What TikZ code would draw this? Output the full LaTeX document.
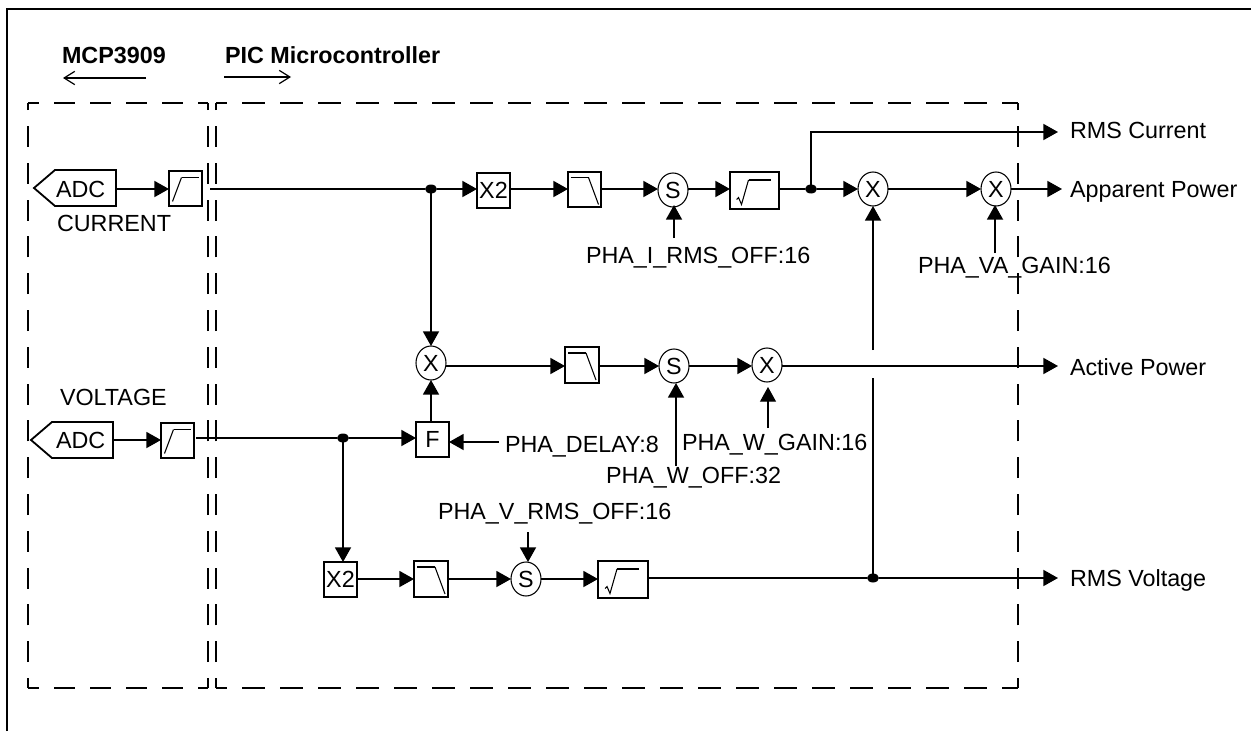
\documentclass[tikz,border=0pt]{standalone}
\usepackage{fontspec}
\setmainfont{Liberation Sans}
\usetikzlibrary{arrows.meta,shapes.geometric}
\tikzset{
  lw/.style={line width=1.35pt},
  bx/.style 2 args={draw,lw,rectangle,inner sep=0pt,outer sep=0pt,minimum width=#1*0.75pt,minimum height=#2*0.75pt,font=\fontsize{17.5}{20}\selectfont},
  rnd/.style={draw,line width=0.8pt,ellipse,inner sep=0pt,outer sep=0pt,minimum width=30*0.75pt,minimum height=34*0.75pt,font=\fontsize{17.5}{20}\selectfont},
  lbl/.style={anchor=base west,inner sep=0pt,outer sep=0pt,font=\fontsize{17.5}{20}\selectfont},
  blbl/.style={lbl,font=\fontsize{17.5}{20}\selectfont\bfseries},
  wire/.style={lw},
  flow/.style={lw,-{Triangle[length=11pt,width=12pt]}},
  open/.style={line width=0.9pt,-{Straight Barb[length=8pt,width=10pt]}},
  dot/.style={fill,ellipse,inner sep=0pt,outer sep=0pt,minimum width=12*0.75pt,minimum height=9*0.75pt},
  dashH/.style={lw,dash pattern=on 15.75pt off 11.25pt},
  dashR/.style={lw,dash pattern=on 16.9pt off 11.6pt},
  dashV/.style={lw,dash pattern=on 15.75pt off 11.85pt},
  glyph/.style={lw,line join=miter},
  thin glyph/.style={line width=0.8pt}
}
\newcommand{\hpfglyph}[1]{%
  \draw[thin glyph] ([shift={(-13,13)}]#1.center) -- ([shift={(-4,-11)}]#1.center);
  \draw[glyph] ([shift={(-4,-11)}]#1.center) -- ([shift={(13.5,-11)}]#1.center);}
\newcommand{\lpfglyph}[1]{%
  \draw[glyph] ([shift={(-14,-12)}]#1.center) -- ([shift={(4,-12)}]#1.center);
  \draw[thin glyph] ([shift={(4,-12)}]#1.center) -- ([shift={(14,15)}]#1.center);}
\newcommand{\sqrtglyph}[1]{%
  \draw[thin glyph] ([shift={(-18,9)}]#1.center) -- ([shift={(-16,7)}]#1.center) -- ([shift={(-13,14)}]#1.center) -- ([shift={(-6,-10.5)}]#1.center);
  \draw[glyph] ([shift={(-6,-10.5)}]#1.center) -- ([shift={(16,-10.5)}]#1.center);}
\begin{document}
\begin{tikzpicture}[x=0.75pt,y=-0.75pt]
\useasboundingbox (0,0) rectangle (1251,731);
% outer frame
\draw[lw] (7,731) -- (7,9) -- (1251,9);
% dashed regions
\draw[dashH,dash phase=7.5pt] (28,103) -- (208,103);
\draw[dashH,dash phase=7.5pt] (28,688) -- (208,688);
\draw[dashV,dash phase=8.25pt] (28,688) -- (28,103);
\draw[dashV,dash phase=8.25pt] (208,688) -- (208,103);
\draw[dashR,dash phase=8.65pt] (216,103) -- (1018,103);
\draw[dashR,dash phase=8.65pt] (216,688) -- (1018,688);
\draw[dashV,dash phase=8.25pt] (216,688) -- (216,103);
\draw[dashV,dash phase=8.25pt] (1018,688) -- (1018,103);
% headings
\node[blbl] (mcp) at (62,64) {MCP3909};
\node[blbl] (pic) at (225,64) {PIC Microcontroller};
\coordinate (mcpA) at (146,78); \coordinate (mcpB) at (63,78);
\coordinate (picA) at (224,77); \coordinate (picB) at (291,77);
\draw[open] (mcpA) -- (mcpB);
\draw[open] (picA) -- (picB);
% current ADC
\node[inner sep=0pt,outer sep=0pt,minimum width=61*0.75pt,minimum height=36*0.75pt] (adcI) at (85.5,188) {};
\coordinate (adcItip) at (34,188);
\draw[lw] (adcI.north west) -- (adcI.north east) -- (adcI.south east) -- (adcI.south west) -- (adcItip) -- cycle;
\node[lbl] (adcIt) at (56,197) {ADC};
\node[lbl] (curr) at (57,231) {CURRENT};
\node[bx={33}{35}] (hpfI) at (185.5,188.5) {};
\hpfglyph{hpfI}
\coordinate (outI) at (210,189);
\draw[flow] (adcI.east |- outI) -- (hpfI.west |- outI);
% voltage ADC
\node[inner sep=0pt,outer sep=0pt,minimum width=61*0.75pt,minimum height=36*0.75pt] (adcV) at (82.5,440) {};
\coordinate (adcVtip) at (31,440);
\draw[lw] (adcV.north west) -- (adcV.north east) -- (adcV.south east) -- (adcV.south west) -- (adcVtip) -- cycle;
\node[lbl] (adcVt) at (56,448) {ADC};
\node[lbl] (volt) at (60,405.5) {VOLTAGE};
\node[bx={33}{35}] (hpfV) at (177.5,440.5) {};
\hpfglyph{hpfV}
\draw[flow] (adcV.east) -- (hpfV.west |- adcV.east);
% current path
\node[dot] (dI) at (431,189) {};
\node[bx={33}{35}] (x2I) at (493.5,190.5) {X2};
\node[bx={33}{35}] (lpfI) at (584.5,189.5) {};
\lpfglyph{lpfI}
\node[rnd] (sI) at (673,190) {S};
\node[bx={49}{37}] (rI) at (754.5,190.5) {};
\sqrtglyph{rI}
\node[dot] (dR) at (811,189) {};
\node[rnd] (xA) at (873,189) {X};
\node[rnd] (xB) at (996,189) {X};
\node[lbl] (tRMSI) at (1070,138.5) {RMS Current};
\node[lbl] (tApp) at (1070,197) {Apparent Power};
\coordinate (endR) at (1058,132);
\coordinate (endA) at (1062,189);
\draw[wire] (outI) -- (dI);
\draw[flow] (dI) -- (x2I.west |- dI);
\draw[flow] (x2I.east |- dI) -- (lpfI.west |- dI);
\draw[flow] (lpfI.east |- dI) -- (sI.west |- dI);
\draw[flow] (sI.east |- dI) -- (rI.west |- dI);
\draw[wire] (rI.east |- dR) -- (dR);
\draw[flow] (dR) -- (xA.west);
\draw[flow] (xA.east) -- (xB.west);
\draw[flow] (xB.east) -- (endA);
\draw[flow] (dR.center) |- (endR);
\node[lbl] (tIoff) at (586,263) {PHA\_I\_RMS\_OFF:16};
\coordinate (cIoff) at (674,238);
\draw[flow] (cIoff) -- (674,205);
\node[lbl] (tVA) at (918,273) {PHA\_VA\_GAIN:16};
\coordinate (cVA) at (995,253);
\coordinate (tipVA) at (995,205);
\draw[flow] (cVA) -- (tipVA);
% active path
\coordinate (endP) at (1058,366);
\node[rnd] (xM) at (431,363) {X};
\node[bx={34}{36}] (lpfM) at (582,365) {};
\lpfglyph{lpfM}
\node[rnd] (sM) at (674,366) {S};
\node[rnd] (xP) at (767,365) {X};
\node[lbl] (tAct) at (1070,375) {Active Power};
\draw[flow] (dI.center) -- (xM.north);
\draw[flow] (xM.east |- endP) -- (lpfM.west |- endP);
\draw[flow] (lpfM.east |- endP) -- (sM.west);
\draw[flow] (sM.east) -- (xP.west |- endP);
\draw[flow] (xP.east |- endP) -- (endP);
% voltage path
\coordinate (outV) at (196,438);
\node[dot] (dV) at (343,438) {};
\node[bx={33}{35}] (fF) at (432.5,439.5) {F};
\draw[wire] (outV) -- (dV);
\draw[flow] (dV) -- (fF.west |- dV);
\draw[flow] (fF.north -| xM.south) -- (xM.south);
\node[lbl] (tDel) at (505,452) {PHA\_DELAY:8};
\coordinate (cDel) at (499,442);
\draw[flow] (cDel) -- (fF.east |- cDel);
\node[lbl] (tWg) at (682,450) {PHA\_W\_GAIN:16};
\coordinate (cWg) at (768,428);
\coordinate (tipWg) at (768,387);
\draw[flow,line width=0.8pt] (cWg) -- (tipWg);
\node[lbl] (tWo) at (606,483) {PHA\_W\_OFF:32};
\coordinate (cWo) at (676,466);
\draw[flow] (cWo) -- (cWo |- sM.south);
\node[lbl] (tVoff) at (438,519) {PHA\_V\_RMS\_OFF:16};
\node[bx={33}{35}] (x2V) at (340.5,579.5) {X2};
\node[bx={34}{36}] (lpfV) at (431,579) {};
\lpfglyph{lpfV}
\node[rnd] (sV) at (526,579) {S};
\node[bx={50}{37}] (rV) at (623,579.5) {};
\sqrtglyph{rV}
\node[dot] (dP) at (873,578) {};
\node[lbl] (tRMSV) at (1070,586) {RMS Voltage};
\coordinate (endV) at (1058,578);
\coordinate (cVoff) at (528,532);
\draw[flow] (dV.center) -- (dV.center |- x2V.north);
\draw[flow] (x2V.east |- sV.west) -- (lpfV.west);
\draw[flow] (lpfV.east) -- (sV.west);
\draw[flow] (cVoff) -- (cVoff |- sV.north);
\draw[flow] (sV.east) -- (rV.west |- sV.east);
\draw[wire] (rV.east |- dP) -- (dP);
\draw[flow] (dP) -- (endV);
% crossing of the active line
\coordinate (gapB) at (873,378);
\coordinate (gapT) at (873,350);
\draw[wire] (dP.center) -- (gapB);
\draw[flow] (gapT) -- (xA.south);
\end{tikzpicture}
\end{document}
